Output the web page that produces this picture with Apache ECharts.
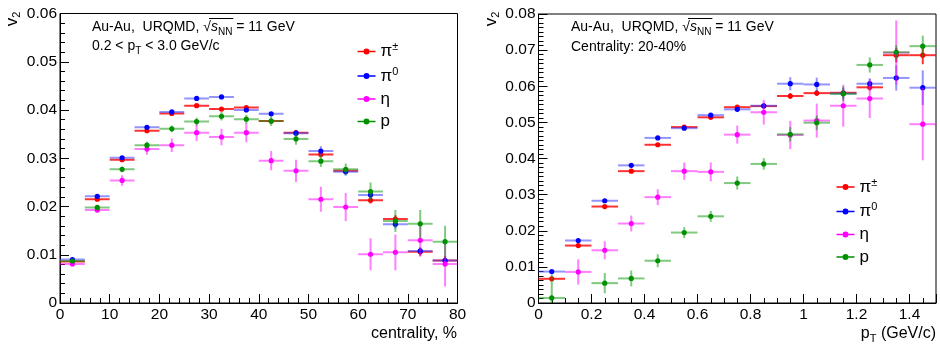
<!DOCTYPE html>
<html>
<head>
<meta charset="utf-8">
<script src="https://cdn.jsdelivr.net/npm/echarts@6/dist/echarts.min.js"></script>
<style>
html,body{margin:0;padding:0;background:#fff;}
#main{width:940px;height:346px;}
</style>
</head>
<body>
<div id="main"></div>
<script>
// ---------- DATA ----------
const centBins = [2.5, 7.5, 12.5, 17.5, 22.5, 27.5, 32.5, 37.5, 42.5, 47.5, 52.5, 57.5, 62.5, 67.5, 72.5, 77.5];
const centHalfWidth = 2.5;
const piCh_cent = [0.0086, 0.0215, 0.0297, 0.0357, 0.0393, 0.0409, 0.0402, 0.0405, 0.0377, 0.0353, 0.0308, 0.0274, 0.0213, 0.0174, 0.0106, 0.0088];
const piCh_cent_err = [0.0003, 0.0003, 0.0003, 0.0003, 0.0003, 0.0003, 0.0003, 0.0004, 0.0004, 0.0005, 0.0006, 0.0006, 0.0007, 0.0008, 0.0008, 0.0009];
const pi0_cent = [0.0090, 0.0221, 0.0301, 0.0364, 0.0396, 0.0424, 0.0427, 0.0400, 0.0392, 0.0352, 0.0315, 0.0272, 0.0224, 0.0163, 0.0108, 0.0088];
const pi0_cent_err = [0.0003, 0.0003, 0.0003, 0.0003, 0.0003, 0.0003, 0.0003, 0.0004, 0.0004, 0.0006, 0.0010, 0.0008, 0.0009, 0.0009, 0.0008, 0.0009];
const eta_cent = [0.0081, 0.0193, 0.0254, 0.0319, 0.0327, 0.0353, 0.0344, 0.0353, 0.0295, 0.0274, 0.0215, 0.0199, 0.0101, 0.0105, 0.0130, 0.0081];
const eta_cent_err = [0.0005, 0.0006, 0.0011, 0.0012, 0.0014, 0.0017, 0.0017, 0.0020, 0.0020, 0.0023, 0.0026, 0.0029, 0.0033, 0.0037, 0.0034, 0.0047];
const p_cent = [0.0087, 0.0198, 0.0277, 0.0327, 0.0361, 0.0376, 0.0387, 0.0381, 0.0377, 0.0340, 0.0294, 0.0277, 0.0231, 0.0170, 0.0164, 0.0127];
const p_cent_err = [0.0004, 0.0005, 0.0006, 0.0007, 0.0007, 0.0008, 0.0009, 0.0009, 0.0010, 0.0012, 0.0012, 0.0012, 0.0019, 0.0023, 0.0029, 0.0033];

const ptBins = [0.05, 0.15, 0.25, 0.35, 0.45, 0.55, 0.65, 0.75, 0.85, 0.95, 1.05, 1.15, 1.25, 1.35, 1.45];
const ptHalfWidth = 0.05;
const piCh_pt = [0.0067, 0.0159, 0.0267, 0.0365, 0.0438, 0.0487, 0.0514, 0.0542, 0.0545, 0.0573, 0.0581, 0.0582, 0.0597, 0.0686, 0.0686];
const piCh_pt_err = [0.0004, 0.0003, 0.0003, 0.0003, 0.0003, 0.0003, 0.0004, 0.0004, 0.0005, 0.0008, 0.0008, 0.0008, 0.0009, 0.0020, 0.0025];
const pi0_pt = [0.0087, 0.0173, 0.0283, 0.0381, 0.0457, 0.0484, 0.0520, 0.0536, 0.0546, 0.0607, 0.0605, 0.0580, 0.0607, 0.0623, 0.0596];
const pi0_pt_err = [0.0004, 0.0004, 0.0004, 0.0004, 0.0004, 0.0004, 0.0005, 0.0006, 0.0008, 0.0018, 0.0019, 0.0015, 0.0015, 0.0035, 0.0048];
const eta_pt = [null, 0.0086, 0.0146, 0.0220, 0.0293, 0.0365, 0.0363, 0.0466, 0.0528, 0.0465, 0.0505, 0.0546, 0.0566, 0.0693, 0.0495];
const eta_pt_err = [null, 0.0035, 0.0025, 0.0022, 0.0022, 0.0024, 0.0026, 0.0025, 0.0034, 0.0039, 0.0047, 0.0058, 0.0054, 0.0089, 0.0100];
const p_pt = [0.0014, null, 0.0055, 0.0068, 0.0117, 0.0195, 0.0240, 0.0332, 0.0385, 0.0467, 0.0499, 0.0579, 0.0659, 0.0694, 0.0711];
const p_pt_err = [0.0065, null, 0.0028, 0.0022, 0.0018, 0.0015, 0.0015, 0.0018, 0.0016, 0.0020, 0.0020, 0.0020, 0.0021, 0.0020, 0.0029];

const leftYTicks = {min: 0, max: 0.06, interval: 0.01};
const rightYTicks = {min: 0, max: 0.08, interval: 0.01};
const leftXTicks = {min: 0, max: 80, interval: 10};
const rightXTicks = {min: 0, max: 1.5, interval: 0.2};

const names = ['pich', 'pi0', 'eta', 'p'];
// ---------- STYLE ----------
const FONT = 'Liberation Sans, Arial, Helvetica, sans-serif';
const markerColors = {pich: '#ff0000', pi0: '#0000ff', eta: '#ff00ff', p: '#009000'};
const barColors = {pich: 'rgba(255,0,0,0.8)', pi0: 'rgba(60,60,255,0.55)', eta: 'rgba(255,0,255,0.5)', p: 'rgba(0,150,0,0.5)'};

function makeRender(lineColor) {
  return function (params, api) {
    const x = api.value(0), y = api.value(1), e = api.value(2), hw = api.value(3);
    const c = api.coord([x, y]);
    const l = api.coord([x - hw, y]);
    const r = api.coord([x + hw, y]);
    const t = api.coord([x, y + e]);
    const b = api.coord([x, y - e]);
    return {
      type: 'group',
      children: [
        {type: 'line', shape: {x1: l[0], y1: l[1], x2: r[0], y2: r[1]}, style: {stroke: lineColor, lineWidth: 2}},
        {type: 'line', shape: {x1: t[0], y1: t[1], x2: b[0], y2: b[1]}, style: {stroke: lineColor, lineWidth: 2}},
        {type: 'circle', shape: {cx: c[0], cy: c[1], r: 2.6}, style: {fill: api.visual('color')}}
      ]
    };
  };
}

function makeSeries(key, xs, ys, errs, hw, idx) {
  const data = [];
  xs.forEach((x, i) => { if (ys[i] != null) data.push([x, ys[i], errs[i], hw]); });
  return {
    type: 'custom', name: key, xAxisIndex: idx, yAxisIndex: idx,
    coordinateSystem: 'cartesian2d', clip: true,
    itemStyle: {color: markerColors[key]},
    encode: {x: 0, y: 1},
    renderItem: makeRender(barColors[key]),
    data: data
  };
}

const series = [
  makeSeries('pich', centBins, piCh_cent, piCh_cent_err, centHalfWidth, 0),
  makeSeries('pi0', centBins, pi0_cent, pi0_cent_err, centHalfWidth, 0),
  makeSeries('eta', centBins, eta_cent, eta_cent_err, centHalfWidth, 0),
  makeSeries('p', centBins, p_cent, p_cent_err, centHalfWidth, 0),
  makeSeries('pich', ptBins, piCh_pt, piCh_pt_err, ptHalfWidth, 1),
  makeSeries('pi0', ptBins, pi0_pt, pi0_pt_err, ptHalfWidth, 1),
  makeSeries('eta', ptBins, eta_pt, eta_pt_err, ptHalfWidth, 1),
  makeSeries('p', ptBins, p_pt, p_pt_err, ptHalfWidth, 1)
];

const legendLabels = {pich: '{g|π}{sup|±}', pi0: '{g|π}{sup|0}', eta: '{g|η}', p: '{g|p}'};
const legendRich = {
  g: {fontSize: 17, fontFamily: FONT, color: '#000', lineHeight: 20},
  sup: {fontSize: 11, fontFamily: FONT, color: '#000', lineHeight: 20, verticalAlign: 'top', padding: [0, 0, 8, 0]}
};
const legendIcon = 'path://M0,3.2H6V4.8H0Z M12,3.2H18V4.8H12Z M6,4A3,3 0 1,1 12,4A3,3 0 1,1 6,4Z';

function makeLegend(left, top) {
  return {
    data: names, left: left, top: top, orient: 'vertical', padding: 0,
    itemWidth: 18, itemHeight: 8, itemGap: 5.5, icon: legendIcon,
    formatter: n => legendLabels[n],
    textStyle: {rich: legendRich, fontSize: 17, fontFamily: FONT, color: '#000'},
    selectedMode: false
  };
}

function axisCommon() {
  return {
    axisLine: {show: true, lineStyle: {color: '#000', width: 1}},
    axisTick: {show: true, inside: true, length: 9, lineStyle: {color: '#000'}},
    minorTick: {show: true, length: 5, lineStyle: {color: '#000'}},
    splitLine: {show: false},
    minorSplitLine: {show: false},
    axisLabel: {color: '#000', fontSize: 15.5, fontFamily: FONT, showMinLabel: true, showMaxLabel: true, hideOverlap: false}
  };
}
const fmt = v => String(Math.round(v * 1000) / 1000);

const xAxes = [
  Object.assign(axisCommon(), {type: 'value', gridIndex: 0, min: leftXTicks.min, max: leftXTicks.max, interval: leftXTicks.interval}),
  Object.assign(axisCommon(), {type: 'value', gridIndex: 1, min: rightXTicks.min, max: rightXTicks.max, interval: rightXTicks.interval})
];
xAxes[0].minorTick.splitNumber = 5;
xAxes[0].axisLabel.margin = 4;
xAxes[0].axisLabel.formatter = fmt;
xAxes[1].minorTick.splitNumber = 4;
xAxes[1].axisLabel.margin = 4;
xAxes[1].axisLabel.formatter = v => (Math.abs(v - 1.5) < 1e-9 ? '' : fmt(v));

const yAxes = [
  Object.assign(axisCommon(), {type: 'value', gridIndex: 0, min: leftYTicks.min, max: leftYTicks.max, interval: leftYTicks.interval}),
  Object.assign(axisCommon(), {type: 'value', gridIndex: 1, min: rightYTicks.min, max: rightYTicks.max, interval: rightYTicks.interval})
];
yAxes[0].minorTick.splitNumber = 5;
yAxes[0].axisLabel.margin = 3;
yAxes[0].axisLabel.formatter = fmt;
yAxes[1].minorTick.splitNumber = 8;
yAxes[1].axisLabel.margin = 3;
yAxes[1].axisLabel.formatter = fmt;

const annRich = {
  n: {fontSize: 14, fontFamily: FONT, fill: '#000', lineHeight: 20},
  i: {fontSize: 14, fontFamily: FONT, fontStyle: 'italic', fill: '#000', lineHeight: 20},
  sub: {fontSize: 10, fontFamily: FONT, fill: '#000', lineHeight: 20, verticalAlign: 'bottom'},
  v: {fontSize: 17, fontFamily: FONT, fill: '#000', lineHeight: 20},
  vs: {fontSize: 11, fontFamily: FONT, fill: '#000', lineHeight: 20, verticalAlign: 'bottom'}
};
function txt(x, y, text, extra) {
  return Object.assign({
    type: 'text', x: x, y: y,
    style: {text: text, rich: annRich, font: '14px ' + FONT, fill: '#000', verticalAlign: 'middle', align: 'left'}
  }, extra || {});
}
const energyText = '{n|Au-Au,  URQMD, √}{i|s}{sub|NN}{n| = 11 GeV}';

// overline of the square root, measured from the text itself
const mctx = document.createElement('canvas').getContext('2d');
function tw(str, font) { mctx.font = font; return mctx.measureText(str).width; }
const preW = tw('Au-Au,  URQMD, √', '14px ' + FONT);
const radW = tw('√', '14px ' + FONT);
const radicandW = tw('s', 'italic 14px ' + FONT) + tw('NN', '10px ' + FONT);
function overline(x0, y) {
  const xs = x0 + preW - radW * 0.25;
  return {type: 'line', shape: {x1: xs, y1: y, x2: x0 + preW + radicandW + 1, y2: y}, style: {stroke: '#000', lineWidth: 1}};
}

const graphic = [
  txt(92, 27, energyText),
  txt(92, 46, '{n|0.2 < p}{sub|T}{n| < 3.0 GeV/c}'),
  txt(571, 27, energyText),
  txt(571, 47, '{n|Centrality: 20-40%}'),
  Object.assign(txt(12, 19, '{v|v}{vs|2}'), {rotation: Math.PI / 2}),
  Object.assign(txt(491, 19, '{v|v}{vs|2}'), {rotation: Math.PI / 2}),
  txt(457, 334, '{v|centrality, %}'),
  txt(936, 334, '{v|p}{vs|T}{v| (GeV/c)}'),
  overline(92, 18.5),
  overline(571, 18.5)
];
graphic[4].style.align = 'center';
graphic[5].style.align = 'center';
graphic[6].style.align = 'right';
graphic[7].style.align = 'right';
graphic[6].style.rich = Object.assign({}, annRich, {v: {fontSize: 16, fontFamily: FONT, fill: '#000', lineHeight: 20}});
graphic[7].style.rich = Object.assign({}, annRich, {v: {fontSize: 16, fontFamily: FONT, fill: '#000', lineHeight: 20}, vs: {fontSize: 11, fontFamily: FONT, fill: '#000', lineHeight: 20, verticalAlign: 'bottom'}});

const chart = echarts.init(document.getElementById('main'), null, {renderer: 'canvas'});
chart.setOption({
  animation: false,
  backgroundColor: '#fff',
  grid: [
    {left: 60, top: 13.5, width: 397.5, height: 289.5, show: true, borderColor: '#000', borderWidth: 1, containLabel: false},
    {left: 538.5, top: 14, width: 397.5, height: 289, show: true, borderColor: '#000', borderWidth: 1, containLabel: false}
  ],
  xAxis: xAxes,
  yAxis: yAxes,
  legend: [makeLegend(357.5, 41.5), makeLegend(836.5, 177)],
  series: series,
  graphic: graphic
});
</script>
</body>
</html>
